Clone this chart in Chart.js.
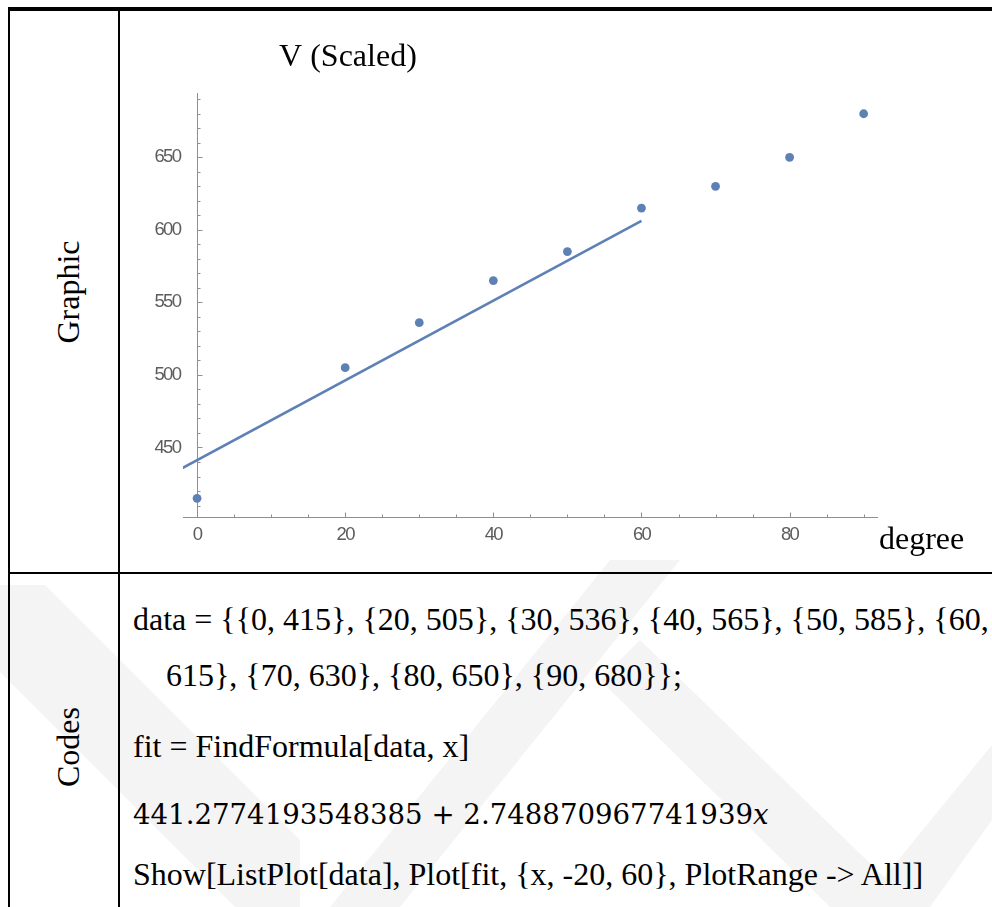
<!DOCTYPE html>
<html>
<head>
<meta charset="utf-8">
<script src="https://cdn.jsdelivr.net/npm/chart.js@4/dist/chart.umd.min.js"></script>
<style>
  html, body { margin: 0; padding: 0; background: #fff; }
  body { width: 992px; height: 907px; position: relative; overflow: hidden; }
  .wm { position: absolute; left: 0; top: 0; width: 992px; height: 907px; }
  .rule { position: absolute; background: #000; }
  .side {
    position: absolute; font-family: "Liberation Serif", "Times New Roman", serif;
    font-size: 32px; line-height: 32px; white-space: nowrap;
    transform: translate(-50%, -50%) rotate(-90deg);
  }
  .code {
    position: absolute; left: 133px; font-family: "Liberation Serif", "Times New Roman", serif;
    font-size: 32px; line-height: 32px; white-space: pre; color: #000;
  }
  .math { font-family: "DejaVu Serif", serif; font-size: 27.6px; line-height: 28px; }
  .math i { font-style: italic; }
  #plotBox { position: absolute; left: 120px; top: 11px; width: 872px; height: 561px; }
</style>
</head>
<body>
<svg class="wm" viewBox="0 0 992 907">
  <g fill="#f4f4f4">
    <polygon points="0,585 45,585 300,840 300,907 235,907 0,672"/>
    <polygon points="330,907 610,560 680,560 400,907"/>
    <polygon points="640,640 915,907 830,907 600,680"/>
    <polygon points="860,907 992,745 992,820 930,907"/>
  </g>
</svg>

<div class="rule" style="left:8px; top:7px; width:984px; height:4px;"></div>
<div class="rule" style="left:8px; top:7px; width:2px; height:900px;"></div>
<div class="rule" style="left:118px; top:7px; width:2px; height:900px;"></div>
<div class="rule" style="left:8px; top:572px; width:984px; height:2px;"></div>

<div class="side" style="left:68px; top:292px;">Graphic</div>
<div class="side" style="left:68px; top:747px;">Codes</div>

<div id="plotBox"><canvas id="chart"></canvas></div>

<div class="code" style="top:603px;">data = {{0, 415}, {20, 505}, {30, 536}, {40, 565}, {50, 585}, {60,</div>
<div class="code" style="top:659px; left:166px;">615}, {70, 630}, {80, 650}, {90, 680}};</div>
<div class="code" style="top:730px;">fit = FindFormula[data, x]</div>
<div class="code math" style="top:801px;">441.2774193548385 + 2.748870967741939<i>x</i></div>
<div class="code" style="top:858px;">Show[ListPlot[data], Plot[fit, {x, -20, 60}, PlotRange -&gt; All]]</div>

<script>
// Measured points (angle in degrees, scaled V)
const degrees = [0, 20, 30, 40, 50, 60, 70, 80, 90];
const voltages = [415, 505, 536, 565, 585, 615, 630, 650, 680];

// Endpoints of the fitted line 441.2774193548385 + 2.748870967741939 x over x in [-20, 60]
const fitX = [-20, 60];
const fitY = [386.30, 606.21];

// Axis ranges and labelled ticks
const xRange = [-1.9, 91.8];
const yRange = [402.1, 694.3];
const xTicks = [0, 20, 40, 60, 80];
const yTicks = [450, 500, 550, 600, 650];
const xMinorTicks = [5, 10, 15, 25, 30, 35, 45, 50, 55, 65, 70, 75, 85, 90];
const yMinorTicks = [410, 420, 430, 440, 460, 470, 480, 490, 510, 520, 530, 540, 560, 570, 580, 590,
                     610, 620, 630, 640, 660, 670, 680, 690];

const yAxisTitle = 'V (Scaled)';
const xAxisTitle = 'degree';

const blue = '#5e81b5';
const axisGray = '#8f8f8f';
const labelGray = '#5c5c5c';
const tickFont = { family: '"Liberation Sans", Arial, sans-serif', size: 18.5 };

// Tight letter spacing for the tick numbers while the scales draw
const tightLabels = {
  id: 'tightLabels',
  beforeDraw(chart) { chart.ctx.letterSpacing = '-1.7px'; },
  beforeDatasetsDraw(chart) { chart.ctx.letterSpacing = '0px'; }
};

// Inward tick marks plus the two axis titles
const axisDecor = {
  id: 'axisDecor',
  afterDraw(chart) {
    const { ctx, scales: { x, y } } = chart;
    const x0 = x.getPixelForValue(0);
    const yBase = y.getPixelForValue(yRange[0]);
    ctx.save();
    ctx.letterSpacing = '0px';
    ctx.strokeStyle = axisGray;
    ctx.lineWidth = 1;
    ctx.beginPath();
    const mark = (x1, y1, x2, y2) => { ctx.moveTo(x1, y1); ctx.lineTo(x2, y2); };
    const ax = Math.round(x0) + 0.5;
    const ay = Math.round(yBase) + 0.5;
    xTicks.forEach(v => { const p = Math.round(x.getPixelForValue(v)) + 0.5; mark(p, ay, p, ay - 5); });
    xMinorTicks.forEach(v => { const p = Math.round(x.getPixelForValue(v)) + 0.5; mark(p, ay, p, ay - 3); });
    yTicks.forEach(v => { const p = Math.round(y.getPixelForValue(v)) + 0.5; mark(ax, p, ax + 5, p); });
    yMinorTicks.forEach(v => { const p = Math.round(y.getPixelForValue(v)) + 0.5; mark(ax, p, ax + 3, p); });
    ctx.stroke();

    ctx.fillStyle = '#000';
    ctx.font = '32px "Liberation Serif", "Times New Roman", serif';
    ctx.textBaseline = 'alphabetic';
    ctx.textAlign = 'left';
    ctx.fillText(yAxisTitle, x0 + 82, y.top - 27);
    ctx.fillText(xAxisTitle, x.right + 2, yBase + 32);
    ctx.restore();
  }
};

new Chart(document.getElementById('chart'), {
  type: 'scatter',
  data: {
    datasets: [
      {
        label: 'fit',
        type: 'line',
        data: fitX.map((v, i) => ({ x: v, y: fitY[i] })),
        borderColor: blue,
        borderWidth: 2.6,
        pointRadius: 0,
        fill: false,
        tension: 0
      },
      {
        label: 'data',
        data: degrees.map((v, i) => ({ x: v, y: voltages[i] })),
        backgroundColor: blue,
        borderWidth: 0,
        pointRadius: 4.4,
        pointHoverRadius: 4.4
      }
    ]
  },
  options: {
    responsive: true,
    maintainAspectRatio: false,
    animation: false,
    events: [],
    layout: { padding: { left: 63, right: 115, top: 82, bottom: 55 } },
    plugins: { legend: { display: false }, tooltip: { enabled: false }, title: { display: false } },
    scales: {
      x: {
        type: 'linear',
        position: { y: yRange[0] },
        min: xRange[0], max: xRange[1],
        afterBuildTicks: s => { s.ticks = xTicks.map(v => ({ value: v })); },
        grid: { display: false, drawTicks: false },
        border: { display: true, color: axisGray, width: 1 },
        ticks: { color: labelGray, font: tickFont, padding: 7, maxRotation: 0, autoSkip: false }
      },
      y: {
        type: 'linear',
        position: { x: 0 },
        min: yRange[0], max: yRange[1],
        afterBuildTicks: s => { s.ticks = yTicks.map(v => ({ value: v })); },
        grid: { display: false, drawTicks: false },
        border: { display: true, color: axisGray, width: 1 },
        // an em space keeps the numbers clear of the axis line
        ticks: { color: labelGray, font: tickFont, autoSkip: false, callback: v => v + '\u2003' }
      }
    }
  },
  plugins: [tightLabels, axisDecor]
});
</script>
</body>
</html>
